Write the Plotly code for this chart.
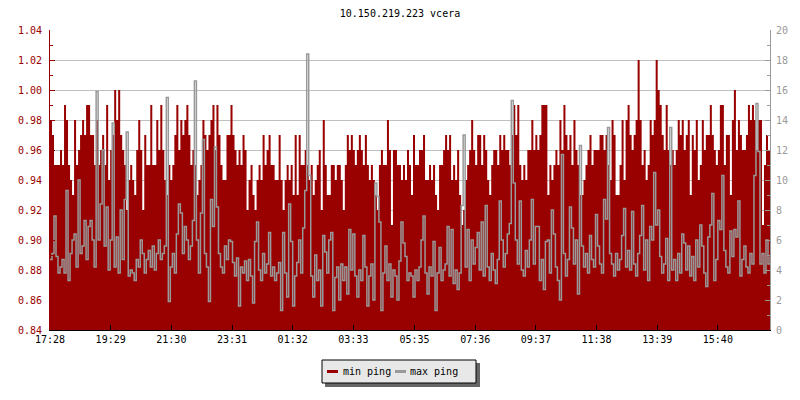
import plotly.graph_objects as go
import pandas as pd

# ---- data ----
title_text = "10.150.219.223 vcera"
series_names = ["min ping", "max ping"]
start_time = "2024-05-01 17:28"
sample_minutes = 4

tick_labels = ["17:28", "19:29", "21:30", "23:31", "01:32", "03:33",
               "05:35", "07:36", "09:37", "11:38", "13:39", "15:40"]

min_ping = [
    0.98, 0.97, 0.95, 0.95, 0.95, 0.96, 0.95, 0.99, 0.98, 0.95,
    0.94, 0.93, 0.98, 0.95, 0.96, 0.97, 0.98, 0.97, 0.99, 0.99,
    0.97, 0.97, 0.95, 0.98, 0.95, 0.96, 0.97, 0.95, 0.99, 0.94,
    0.96, 0.97, 1.00, 0.98, 1.00, 0.97, 0.96, 0.95, 0.92, 0.94,
    0.95, 0.94, 0.93, 0.96, 0.98, 0.96, 0.92, 0.97, 0.95, 0.95,
    0.99, 0.95, 0.95, 0.98, 0.96, 0.99, 0.96, 0.94, 0.93, 0.95,
    0.94, 0.95, 0.97, 0.99, 0.96, 0.98, 0.97, 0.98, 0.99, 0.97,
    0.95, 0.96, 0.95, 0.93, 0.94, 0.95, 0.98, 0.97, 0.96, 0.97,
    0.98, 0.99, 0.96, 0.99, 0.97, 0.95, 0.94, 0.94, 0.97, 0.97,
    # 2nd quarter
    0.99, 0.97, 0.96, 0.95, 0.96, 0.95, 0.97, 0.96, 0.92, 0.94,
    0.95, 0.93, 0.92, 0.94, 0.95, 0.94, 0.97, 0.95, 0.96, 0.97,
    0.95, 0.95, 0.94, 0.94, 0.97, 0.94, 0.92, 0.94, 0.95, 0.94,
    0.95, 0.93, 0.97, 0.93, 0.97, 0.95, 0.95, 0.96, 0.95, 0.94,
    0.95, 0.93, 0.94, 0.95, 0.96, 0.92, 0.98, 0.95, 0.93, 0.93,
    0.95, 0.95, 0.94, 0.95, 0.95, 0.94, 0.92, 0.95, 0.97, 0.96,
    0.97, 0.96, 0.95, 0.96, 0.97, 0.96, 0.95, 0.97, 0.95, 0.94,
    0.95, 0.94, 0.93, 0.92, 0.95, 0.96, 0.95, 0.95, 0.98, 0.96,
    0.91, 0.96, 0.96, 0.95, 0.95, 0.94, 0.95, 0.94, 0.96, 0.95,
    # 3rd quarter
    0.93, 0.97, 0.95, 0.95, 0.96, 0.96, 0.97, 0.94, 0.94, 0.95,
    0.94, 0.95, 0.93, 0.92, 0.95, 0.95, 0.96, 0.97, 0.96, 0.97,
    0.94, 0.95, 0.94, 0.96, 0.93, 0.91, 0.92, 0.94, 0.95, 0.96,
    0.98, 0.96, 0.95, 0.97, 0.97, 0.95, 0.97, 0.96, 0.94, 0.93,
    0.95, 0.96, 0.96, 0.95, 0.97, 0.96, 0.97, 0.96, 0.96, 0.95,
    0.97, 0.99, 0.97, 0.99, 0.95, 0.94, 0.95, 0.94, 0.96, 0.96,
    0.98, 0.96, 0.97, 0.96, 0.97, 0.99, 0.99, 0.99, 0.93, 0.95,
    0.94, 0.95, 0.96, 0.95, 0.98, 0.96, 0.99, 0.97, 0.96, 0.97,
    0.95, 0.98, 0.96, 0.95, 0.93, 0.93, 0.94, 0.95, 0.96, 0.97,
    # 4th quarter
    0.95, 0.96, 0.96, 0.96, 0.97, 0.97, 0.96, 0.97, 0.95, 0.94,
    0.98, 0.97, 0.93, 0.93, 0.95, 0.98, 0.94, 0.98, 0.99, 0.97,
    0.96, 0.97, 0.98, 1.02, 0.98, 0.95, 0.96, 0.94, 0.95, 0.98,
    0.97, 0.98, 1.02, 1.00, 0.99, 0.97, 0.96, 0.99, 0.96, 0.95,
    0.96, 0.95, 0.96, 0.98, 0.97, 0.98, 0.96, 0.97, 0.98, 0.93,
    0.97, 0.96, 0.98, 0.94, 0.95, 0.98, 0.96, 0.97, 0.97, 0.99,
    0.97, 0.96, 0.95, 0.96, 0.99, 0.99, 0.95, 0.97, 0.97, 0.93,
    0.98, 1.00, 0.96, 0.98, 0.97, 0.96, 0.96, 0.97, 0.99, 0.98,
    0.99, 0.98, 0.96, 0.98, 0.98, 0.91, 0.95, 0.97, 0.96, 0.99,
]

max_ping = [
    4.7, 5.1, 7.6, 4.9, 3.8, 4.2, 4.7, 3.8, 9.3, 3.3,
    5.1, 6.0, 6.4, 4.2, 10.0, 5.1, 5.6, 7.3, 4.7, 6.9,
    7.3, 6.0, 4.2, 15.9, 6.0, 8.4, 12.0, 5.6, 8.2, 4.0,
    6.0, 13.8, 4.2, 6.2, 3.8, 8.0, 4.7, 8.7, 13.2, 3.6,
    4.0, 3.8, 3.3, 4.7, 4.2, 6.0, 5.1, 3.8, 4.7, 5.3,
    4.2, 5.6, 4.0, 5.1, 6.0, 4.7, 5.1, 5.6, 15.5, 1.9,
    4.2, 5.1, 3.8, 6.4, 8.4, 7.8, 5.1, 6.9, 6.0, 4.7,
    5.6, 7.3, 16.6, 6.0, 3.8, 7.8, 12.7, 5.1, 4.2, 1.9,
    8.7, 6.9, 12.2, 8.2, 5.1, 4.2, 3.8, 5.6, 4.7, 6.0,
    # 2nd quarter
    5.9, 4.5, 3.6, 4.8, 1.6, 4.2, 3.8, 4.6, 3.3, 4.7,
    3.6, 1.8, 5.9, 7.2, 4.0, 3.3, 5.1, 3.8, 4.4, 6.5,
    3.6, 4.2, 3.3, 3.8, 4.5, 1.3, 6.5, 3.8, 2.2, 8.4,
    5.9, 1.6, 3.6, 4.5, 6.0, 3.8, 6.8, 9.3, 18.4, 10.3,
    3.6, 2.2, 5.0, 3.3, 4.0, 1.6, 6.3, 5.2, 3.8, 6.0,
    6.5, 1.3, 3.5, 4.2, 2.0, 4.4, 3.3, 4.2, 2.4, 6.7,
    4.0, 6.4, 3.6, 2.2, 4.0, 3.3, 6.3, 4.2, 1.6, 3.6,
    4.4, 2.0, 9.8, 8.9, 7.2, 1.3, 3.8, 5.6, 3.3, 4.4,
    2.2, 4.0, 3.6, 2.0, 4.6, 7.2, 5.8, 4.9, 3.3, 3.8,
    # 3rd quarter
    3.6, 2.2, 4.0, 3.3, 4.2, 6.0, 7.6, 3.8, 2.4, 4.2,
    3.6, 5.9, 1.3, 3.8, 5.5, 3.3, 4.0, 4.4, 6.9, 3.6,
    6.7, 3.1, 4.0, 2.7, 3.8, 8.3, 13.0, 4.2, 6.7, 3.3,
    6.0, 4.4, 5.5, 6.5, 4.0, 7.2, 3.6, 8.3, 4.2, 3.3,
    5.1, 4.0, 3.1, 4.7, 8.6, 6.0, 4.2, 5.1, 6.4, 7.1,
    15.3, 9.8, 6.0, 4.4, 8.6, 4.0, 3.6, 5.3, 4.2, 6.0,
    8.7, 4.4, 6.9, 6.9, 3.3, 4.7, 2.7, 5.9, 6.0, 3.8,
    8.0, 6.4, 4.2, 3.3, 2.0, 11.7, 5.1, 3.6, 4.7, 8.2,
    6.8, 4.4, 6.0, 2.4, 12.3, 5.6, 4.2, 5.1, 3.8, 6.3,
    # 4th quarter
    4.7, 4.2, 7.7, 5.6, 4.4, 3.8, 8.7, 7.4, 13.5, 5.1,
    4.4, 3.6, 5.1, 4.0, 4.7, 6.3, 8.1, 4.2, 5.3, 4.0,
    7.9, 4.4, 3.6, 5.1, 6.3, 8.3, 4.0, 6.0, 3.3, 6.9,
    6.0, 10.5, 7.0, 8.0, 4.9, 3.8, 4.4, 6.1, 3.3, 13.5,
    4.0, 4.7, 3.3, 5.1, 3.8, 6.4, 5.8, 4.0, 5.6, 3.6,
    4.9, 3.3, 6.0, 4.2, 7.0, 5.6, 3.8, 2.9, 6.2, 7.0,
    9.1, 3.3, 4.7, 7.3, 6.7, 10.3, 5.3, 4.2, 3.8, 6.6,
    4.9, 6.7, 6.2, 8.6, 3.6, 4.7, 5.6, 4.2, 3.8, 5.1,
    4.4, 10.3, 15.1, 11.9, 4.4, 5.1, 3.8, 6.0, 4.4, 4.9,
]

# ---- styles ----
RED = "#990000"
GRAY = "#999999"
FONT = "DejaVu Sans Mono"

start = pd.Timestamp(start_time)
times = pd.date_range(start, periods=len(min_ping), freq=f"{sample_minutes}min")

tick_vals = []
for lab in tick_labels:
    t = start.normalize() + pd.Timedelta(hours=int(lab[:2]), minutes=int(lab[3:]))
    if t < start:
        t += pd.Timedelta(days=1)
    tick_vals.append(t)

fig = go.Figure()
fig.add_trace(go.Scatter(
    x=times, y=min_ping, mode="lines", name=series_names[0],
    line=dict(color=RED, width=0, shape="hv"),
    fill="tozeroy", fillcolor=RED, showlegend=False, hoverinfo="skip"))
fig.add_trace(go.Scatter(
    x=times, y=max_ping, mode="lines", name=series_names[1], yaxis="y2",
    line=dict(color=GRAY, width=1.5, shape="hv"), showlegend=False, hoverinfo="skip"))


def px_x(p):
    return (p - 50) / 720.0


def px_y(p):
    return (330 - p) / 300.0


# legend box drawn like the original (shadowed box with short line keys)
shapes = [
    dict(type="rect", xref="paper", yref="paper",
         x0=px_x(325), x1=px_x(480), y0=px_y(387), y1=px_y(363),
         fillcolor="#666666", line=dict(width=0), layer="above"),
    dict(type="rect", xref="paper", yref="paper",
         x0=px_x(322), x1=px_x(476), y0=px_y(383), y1=px_y(360),
         fillcolor="#e8e8e8", line=dict(color="black", width=1), layer="above"),
    dict(type="line", xref="paper", yref="paper",
         x0=px_x(327), x1=px_x(338), y0=px_y(371.5), y1=px_y(371.5),
         line=dict(color=RED, width=3), layer="above"),
    dict(type="line", xref="paper", yref="paper",
         x0=px_x(395), x1=px_x(406), y0=px_y(371.5), y1=px_y(371.5),
         line=dict(color=GRAY, width=3), layer="above"),
]
annotations = [
    dict(text=series_names[0], xref="paper", yref="paper", x=px_x(341), y=px_y(371.5),
         xanchor="left", yanchor="middle", showarrow=False,
         font=dict(family=FONT, size=10, color="black")),
    dict(text=series_names[1], xref="paper", yref="paper", x=px_x(408), y=px_y(371.5),
         xanchor="left", yanchor="middle", showarrow=False,
         font=dict(family=FONT, size=10, color="black")),
]

fig.update_layout(
    width=800, height=400, autosize=False,
    margin=dict(l=50, r=30, t=30, b=70),
    paper_bgcolor="white", plot_bgcolor="white",
    font=dict(family=FONT, size=10, color="black"),
    showlegend=False,
    title=dict(text=title_text, x=0.5, xref="container", xanchor="center",
               y=1 - 13 / 400, yref="container", yanchor="middle",
               font=dict(family=FONT, size=10, color="black")),
    xaxis=dict(type="date", range=[times[0], times[-1]],
               tickmode="array", tickvals=tick_vals, ticktext=tick_labels,
               ticks="inside", ticklen=5, tickcolor="black",
               showline=True, linecolor="black", linewidth=1,
               showgrid=False, zeroline=False,
               tickfont=dict(family=FONT, size=10, color="black")),
    yaxis=dict(range=[0.84, 1.04], dtick=0.02, tick0=0.84, tickformat=".2f",
               ticks="inside", ticklen=5, tickcolor=RED,
               showline=True, linecolor=RED, linewidth=1,
               showgrid=True, gridcolor="#c0c0c0", gridwidth=1, zeroline=False,
               ticklabelstandoff=5,
               tickfont=dict(family=FONT, size=10, color=RED),
               minor=dict(dtick=0.01, tick0=0.84, ticks="inside", ticklen=3,
                          tickcolor=RED, showgrid=False)),
    yaxis2=dict(range=[0, 20], dtick=2, tick0=0, overlaying="y", side="right",
                ticks="inside", ticklen=5, tickcolor=GRAY,
                showline=True, linecolor=GRAY, linewidth=1,
                showgrid=False, zeroline=False, ticklabelstandoff=3,
                tickfont=dict(family=FONT, size=10, color=GRAY),
                minor=dict(dtick=1, tick0=0, ticks="inside", ticklen=3,
                           tickcolor=GRAY, showgrid=False)),
    shapes=shapes,
    annotations=annotations,
)

post = "document.body.style.margin='0';"

fig.write_html("out.html", post_script=post,
               config={"displayModeBar": False, "staticPlot": True})
